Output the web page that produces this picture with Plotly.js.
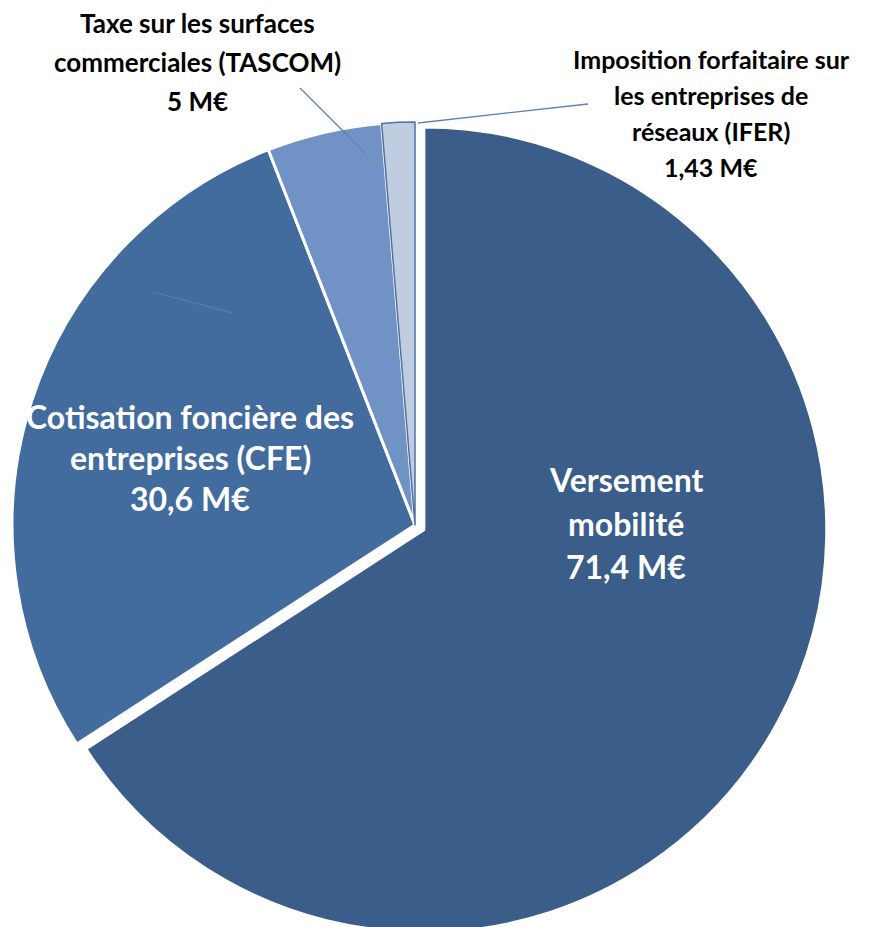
<!DOCTYPE html>
<html>
<head>
<meta charset="utf-8">
<script src="https://cdn.plot.ly/plotly-3.0.1.min.js"></script>
<style>
html,body{margin:0;padding:0;overflow:hidden;background:#fff;}
#chart{width:879px;height:940px;}
</style>
</head>
<body>
<div id="chart"></div>
<script>
// ---- data ----
const categories = ["Versement mobilité", "Cotisation foncière des entreprises (CFE)", "Taxe sur les surfaces commerciales (TASCOM)", "Imposition forfaitaire sur les entreprises de réseaux (IFER)"];
const values = [71.4, 30.6, 5, 1.43];
const labelLines = [
  ["Versement", "mobilité"],
  ["Cotisation foncière des", "entreprises (CFE)"],
  ["Taxe sur les surfaces", "commerciales (TASCOM)"],
  ["Imposition forfaitaire sur", "les entreprises de", "réseaux (IFER)"]
];
const unit = " M€";

// ---- styles ----
const sliceColors = ["#3A5D8A", "#426C9E", "#7092C4", "#C0CCE0"];
const lineColors = ["#ffffff", "#ffffff", "#ffffff", "#4F72A6"];
const lineWidths = [3, 3, 3, 1.5];
const pulls = [0.025, 0, 0, 0];
const H = 940;

// label placement (px centre x, first line y, line step, font size, colour)
const labelPos = [
  {x: 626, y: 480, step: 43, size: 32, color: "#ffffff"},
  {x: 190, y: 416, step: 41, size: 32, color: "#ffffff"},
  {x: 197, y: 23,  step: 39, size: 26, color: "#000000"},
  {x: 711, y: 59,  step: 36, size: 25, color: "#000000"}
];

function fmt(v){ return String(v).replace(".", ",") + unit; }

const annotations = [];
labelLines.forEach((lines, i) => {
  const p = labelPos[i];
  const all = lines.concat([fmt(values[i])]);
  all.forEach((t, k) => {
    annotations.push({
      text: t, xref: "paper", yref: "paper",
      x: p.x / 879, y: 1 - (p.y + k * p.step) / H,
      xanchor: "center", yanchor: "middle", showarrow: false,
      font: {family: "Lato, 'Open Sans', sans-serif", size: p.size, color: p.color, weight: 700}
    });
  });
});

// leader lines (px)
const leaders = [
  [300, 88, 365, 153],
  [418, 123, 588, 104],
  [153, 292, 233, 313]
];
const leaderColors = ["#5B80B8", "#5B80B8", "#4F7AB5"];
const shapes = leaders.map((l, i) => ({
  type: "line", xref: "paper", yref: "paper",
  x0: l[0] / 879, y0: 1 - l[1] / H, x1: l[2] / 879, y1: 1 - l[3] / H,
  line: {color: leaderColors[i], width: 1.3}
}));

const trace = {
  type: "pie",
  labels: categories,
  values: values,
  sort: false,
  direction: "clockwise",
  rotation: 0,
  pull: pulls,
  textinfo: "none",
  hoverinfo: "label+value",
  marker: {colors: sliceColors, line: {color: lineColors, width: lineWidths}},
  domain: {x: [0.00228, 0.94198], y: [0, 0.88298]},
  showlegend: false
};

const layout = {
  width: 879, height: H,
  margin: {l: 0, r: 0, t: 0, b: 0, pad: 0},
  paper_bgcolor: "#ffffff",
  showlegend: false,
  annotations: annotations,
  shapes: shapes
};

Plotly.newPlot("chart", [trace], layout, {displayModeBar: false, staticPlot: true});
</script>
</body>
</html>
